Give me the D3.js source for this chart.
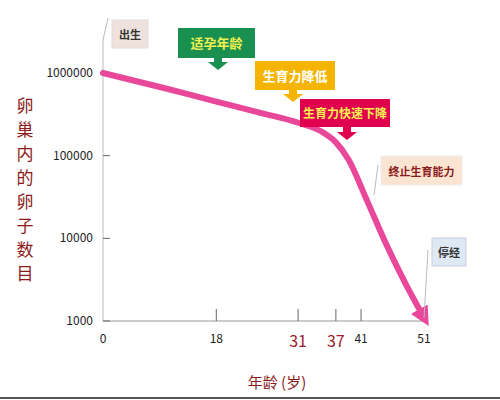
<!DOCTYPE html><html><head><meta charset="utf-8"><script src="https://cdn.jsdelivr.net/npm/d3@7"></script>
<style>body{margin:0;background:#fff}text{font-family:"Noto Sans CJK SC","Noto Sans",sans-serif}</style></head><body>
<svg id="c" width="500" height="400"></svg>
<script>
const ages=[0,10,18,25,31,35,37,39,42,45,48,51];
const eggs=[1000000,650000,450000,330000,250000,190000,145000,90000,28000,8500,2900,1100];
const xTicks=[0,18,31,37,41,51];
const redTicks=[31,37];
const yTicks=[1000,10000,100000,1000000];
const svg=d3.select("#c");
const x=d3.scaleLinear().domain([0,51]).range([103,424]);
const y=d3.scaleLog().domain([1000,1000000]).range([321,73]);
svg.append("line").attr("x1",103).attr("x2",424).attr("y1",321).attr("y2",321).attr("stroke","#999");
svg.append("line").attr("x1",103).attr("x2",103).attr("y1",321).attr("y2",40).attr("stroke","#bbb");
svg.append("line").attr("x1",103).attr("x2",108).attr("y1",40).attr("y2",18).attr("stroke","#bbb");
yTicks.forEach(v=>{svg.append("line").attr("x1",103).attr("x2",110).attr("y1",y(v)).attr("y2",y(v)).attr("stroke","#666");
 svg.append("text").attr("x",93).attr("y",y(v)+4).attr("text-anchor","end").attr("font-size",12).attr("fill","#222").text(v);});
xTicks.forEach(v=>{const red=redTicks.includes(v);
 if(v>0)svg.append("line").attr("x1",x(v)).attr("x2",x(v)).attr("y1",321).attr("y2",309).attr("stroke","#666");
 svg.append("text").attr("x",x(v)).attr("y",red?347:343).attr("text-anchor","middle").attr("font-size",red?16:12).attr("fill",red?"#9b1b2a":"#222").text(v);});
"卵巢内的卵子数目".split("").forEach((c,i)=>svg.append("text").attr("x",25).attr("y",112+i*24).attr("text-anchor","middle").attr("font-size",17).attr("fill","#8b1a1a").text(c));
svg.append("text").attr("x",277).attr("y",388).attr("text-anchor","middle").attr("font-size",15).attr("fill","#8b1a1a").text("年龄 (岁)");
svg.append("line").attr("x1",0).attr("x2",500).attr("y1",398).attr("y2",398).attr("stroke","#555").attr("stroke-width",2);
svg.append("defs").append("marker").attr("id","ah").attr("viewBox","0 0 10 10").attr("refX",5).attr("refY",5).attr("markerWidth",3.2).attr("markerHeight",3.2).attr("orient","auto")
 .append("path").attr("d","M0,0L10,5L0,10Z").attr("fill","#e8479a");
const data=ages.map((a,i)=>[a,eggs[i]]);
svg.append("path").datum(data).attr("fill","none").attr("stroke","#e8479a").attr("stroke-width",6).attr("stroke-linecap","round")
 .attr("marker-end","url(#ah)").attr("d",d3.line().x(d=>x(d[0])).y(d=>y(d[1])).curve(d3.curveMonotoneX));
function box(x0,y0,w,h,fill,col,t,fs,stroke){svg.append("rect").attr("x",x0).attr("y",y0).attr("width",w).attr("height",h).attr("fill",fill).attr("stroke",stroke||"none");
 svg.append("text").attr("x",x0+w/2).attr("y",y0+h/2+5).attr("text-anchor","middle").attr("font-size",fs).attr("font-weight","bold").attr("fill",col).text(t);}
function arrow(cx,cy,c){svg.append("path").attr("d",`M${cx-4},${cy-6}h8v6h6l-10,8l-10,-8h6z`).attr("fill",c);}
box(112,20,36,28,"#efe2dc","#333","出生",11,"#ddd");
box(178,28,77,30,"#1a9050","#f4f050","适孕年龄",13);arrow(218,62,"#1a9050");
box(255,61,80,29,"#f5b400","#fff","生育力降低",13);arrow(293,94,"#f5b400");
box(300,99,90,28,"#e0004d","#f6f050","生育力快速下降",12);arrow(347,132,"#e0004d");
svg.append("line").attr("x1",378).attr("x2",374).attr("y1",165).attr("y2",195).attr("stroke","#bbb");
box(381,156,81,29,"#fbe4d2","#8b1a1a","终止生育能力",11,"#eee");
svg.append("line").attr("x1",428).attr("x2",424).attr("y1",250).attr("y2",318).attr("stroke","#bbb");
box(432,238,34,28,"#dde9f3","#333","停经",11,"#ccd");
</script></body></html>
